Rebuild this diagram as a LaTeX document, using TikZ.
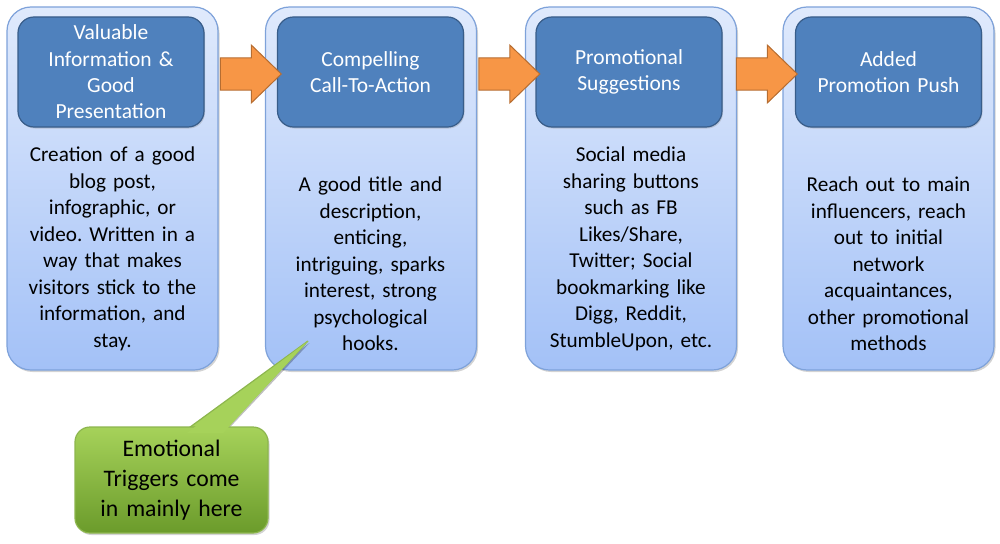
\documentclass[tikz,border=0pt]{standalone}
\usepackage{fontspec}
\setmainfont{Carlito}
\frenchspacing
\usetikzlibrary{shapes.arrows,shadows}
\definecolor{outtop}{HTML}{E0EAFC}
\definecolor{outbot}{HTML}{A3C1F7}
\definecolor{outedge}{HTML}{7EA2DA}
\definecolor{innfill}{HTML}{4F81BD}
\definecolor{innedge}{HTML}{385D8A}
\definecolor{arrfill}{HTML}{F79646}
\definecolor{arredge}{HTML}{B66D31}
\definecolor{grtop}{HTML}{A6D25A}
\definecolor{grbot}{HTML}{6B9B2B}
\definecolor{gredge}{HTML}{8DB64E}
\tikzset{
  outerbox/.style={draw=outedge, line width=1.2pt, rounded corners=24pt, top color=outtop, bottom color=outbot,
    minimum width=211pt, minimum height=363pt, inner sep=0pt,
    drop shadow={opacity=0.35, shadow xshift=1.5pt, shadow yshift=-2pt}},
  titlebox/.style={draw=innedge, line width=1.2pt, rounded corners=16pt, fill=innfill,
    minimum width=186pt, minimum height=110pt, text width=184pt, align=center, inner sep=0pt,
    text=white, font=\fontsize{21.5}{26.3}\selectfont,
    drop shadow={opacity=0.3, shadow xshift=1pt, shadow yshift=-1.5pt}},
  bodytext/.style={text width=206pt, align=center, inner sep=0pt, anchor=south,
    font=\fontsize{21.2}{26.5}\selectfont, text=black},
  flowarrow/.style={single arrow, draw=arredge, line width=1pt, fill=arrfill, inner xsep=0pt, inner ysep=15.5pt,
    single arrow head extend=13pt, minimum height=61pt, single arrow tip angle=88},
  callbox/.style={draw=gredge, line width=1.2pt, rounded corners=15pt, top color=grtop, bottom color=grbot,
    minimum width=193pt, minimum height=106pt, text width=190pt, align=center, inner sep=0pt,
    font=\fontsize{23.7}{30}\selectfont, text=black,
    drop shadow={opacity=0.35, shadow xshift=1.5pt, shadow yshift=-2pt}}
}
\begin{document}
\begin{tikzpicture}[x=1pt,y=-1pt]
\useasboundingbox (0,0) rectangle (1000,543);
% outer boxes
\node[outerbox] (b1) at (112.5,188.5) {};
\node[outerbox] (b2) at (371,188.5) {};
\node[outerbox] (b3) at (631,188.5) {};
\node[outerbox] (b4) at (888.5,188.5) {};
% titles
\node[titlebox] (t1) at (111,72) {Valuable\\Information \&\\Good\\Presentation};
\node[titlebox] (t2) at (370.5,72) {Compelling\\Call-To-Action};
\node[titlebox] (t3) at (629,72) {Promotional\\Suggestions};
\node[titlebox] (t4) at (888.5,72) {Added\\Promotion Push};
% body texts
\node[bodytext] (x1) at (112.5,351) {Creation of a good\\blog post,\\infographic, or\\video. Written in a\\way that makes\\visitors stick to the\\information, and\\stay.};
\node[bodytext] (x2) at (370.5,351) {A good title and\\description,\\enticing,\\intriguing, sparks\\interest, strong\\psychological\\hooks.};
\node[bodytext] (x3) at (631,351) {Social media\\sharing buttons\\such as FB\\Likes/Share,\\Twitter; Social\\bookmarking like\\Digg, Reddit,\\StumbleUpon, etc.};
\node[bodytext] (x4) at (888.5,351) {Reach out to main\\influencers, reach\\out to initial\\network\\acquaintances,\\other promotional\\methods};
% arrows
\node[flowarrow] (a1) at (242.5,74) {};
\node[flowarrow] (a2) at (501,74) {};
\node[flowarrow] (a3) at (758.5,74) {};
% callout
\coordinate (tip) at (308,341);
\coordinate (pl) at (186,430);
\coordinate (pr) at (224,430);
\fill[black,opacity=0.25] ([shift={(1.5,2)}]pl) -- ([shift={(1.5,2)}]tip) -- ([shift={(1.5,2)}]pr) -- cycle;
\draw[draw=gredge, line width=1.2pt, fill=grtop] (pl) -- (tip) -- (pr) -- cycle;
\node[callbox] (cb) at (171.5,480) {Emotional\\Triggers come\\in mainly here};
\fill[grtop] (186.8,433) -- (tip) -- (223.2,433) -- cycle;
\end{tikzpicture}
\end{document}
